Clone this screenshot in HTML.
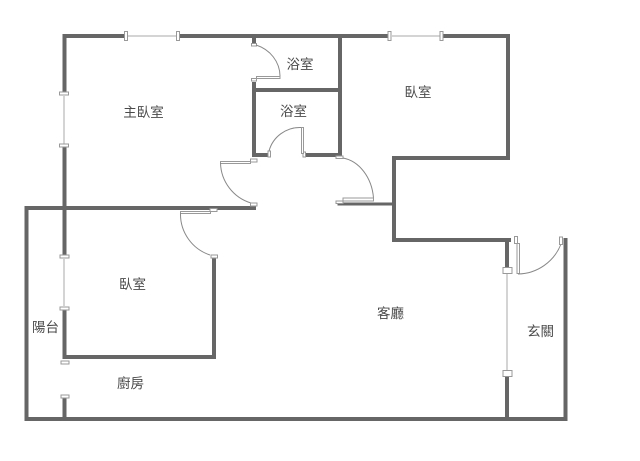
<!DOCTYPE html>
<html>
<head>
<meta charset="utf-8">
<style>
html,body{margin:0;padding:0;background:#fff;}
svg{display:block;}
text{font-family:"Liberation Sans","Noto Sans CJK TC",sans-serif;font-size:13.500px;fill:#4a4a4a;text-anchor:middle;}
.w{stroke:#666;stroke-width:4;fill:none;stroke-linecap:square;}
.t{stroke:#666;stroke-width:3;fill:none;stroke-linecap:square;}
.b{fill:#fff;stroke:#999;stroke-width:1;}
.a{fill:none;stroke:#888;stroke-width:1;}
.l{stroke:#aaa;stroke-width:1;fill:none;}
</style>
</head>
<body>
<svg width="640" height="461" viewBox="0 0 640 461" xmlns="http://www.w3.org/2000/svg">
<!-- walls -->
<path class="w" d="M124 36H64.500V92M64.500 147V254M64.500 309V357H214V259"/>
<path class="w" d="M180 36H388M443 36H508V158H394V240H509"/>
<path class="w" d="M340 36V155H306M254 44V38M254 84V155H268M254 90H340"/>
<path class="w" d="M26.500 208H254M26.500 208V419H565.500V240"/>
<path class="t" d="M339 204H393"/>
<path class="w" d="M64.500 397V419"/>
<path class="w" d="M507 242V268M507 376V419"/>
<!-- window lines -->
<path class="l" d="M128 36H177M392 36H441M64 96V144M64 259V306M507 274V370"/>
<!-- windows caps -->
<rect class="b" x="124.500" y="31.500" width="3" height="9"/>
<rect class="b" x="176.500" y="31.500" width="3" height="9"/>
<rect class="b" x="388" y="31.500" width="3" height="9"/>
<rect class="b" x="440" y="31.500" width="3" height="9"/>
<rect class="b" x="59.500" y="92" width="9" height="3"/>
<rect class="b" x="59.500" y="144" width="9" height="3"/>
<rect class="b" x="60" y="255" width="9" height="3"/>
<rect class="b" x="60" y="307" width="9" height="3"/>
<rect class="b" x="61" y="361" width="8" height="3"/>
<rect class="b" x="61" y="395" width="8" height="3"/>
<rect class="b" x="503" y="267.500" width="9" height="6"/>
<rect class="b" x="503" y="370.500" width="9" height="6"/>
<!-- bath door 1 -->
<rect class="b" x="251.500" y="43.500" width="5" height="2.500"/>
<rect class="b" x="251.500" y="78.500" width="5" height="2.500"/>
<path class="a" d="M256 45A35 33 0 0 1 280 76"/>
<rect class="b" x="256.500" y="76.500" width="23.500" height="2"/>
<!-- bath door 2 -->
<rect class="b" x="268" y="151" width="2.500" height="6"/>
<rect class="b" x="303" y="152" width="2.500" height="5"/>
<path class="a" d="M269 151A32 32 0 0 1 301 127.500"/>
<rect class="b" x="301.500" y="127.500" width="2" height="26"/>
<!-- master door -->
<rect class="b" x="250.500" y="159" width="6.500" height="3"/>
<rect class="b" x="220.500" y="161.500" width="30" height="2"/>
<path class="a" d="M220.500 163A43 43 0 0 0 251 203"/>
<rect class="b" x="250.500" y="203" width="6.500" height="3"/>
<!-- bed door 2 -->
<rect class="b" x="210" y="208.500" width="7" height="3"/>
<rect class="b" x="180.500" y="211.500" width="30" height="2"/>
<path class="a" d="M180.500 213A43 43 0 0 0 210 255"/>
<rect class="b" x="211" y="255" width="6.500" height="3"/>
<!-- bed door 1 -->
<rect class="b" x="336" y="156" width="7" height="2.500"/>
<path class="a" d="M343 158A36 45 0 0 1 373.500 198"/>
<rect class="b" x="343" y="198" width="30.500" height="3"/>
<rect class="b" x="336" y="201" width="7" height="2.500"/>
<!-- entry door -->
<rect class="b" x="514.500" y="236.500" width="3" height="7"/>
<rect class="b" x="517" y="243.500" width="2.500" height="30"/>
<path class="a" d="M518 274A47 47 0 0 0 561 244"/>
<rect class="b" x="559.500" y="237" width="3" height="7.500"/>
<!-- labels -->
<text x="143.500" y="117">主臥室</text>
<text x="300" y="69">浴室</text>
<text x="293.500" y="116">浴室</text>
<text x="418" y="97">臥室</text>
<text x="132.500" y="289">臥室</text>
<text x="45.500" y="332">陽台</text>
<text x="130.500" y="388">廚房</text>
<text x="390.500" y="318">客廳</text>
<text x="540.500" y="336">玄關</text>
</svg>
</body>
</html>
